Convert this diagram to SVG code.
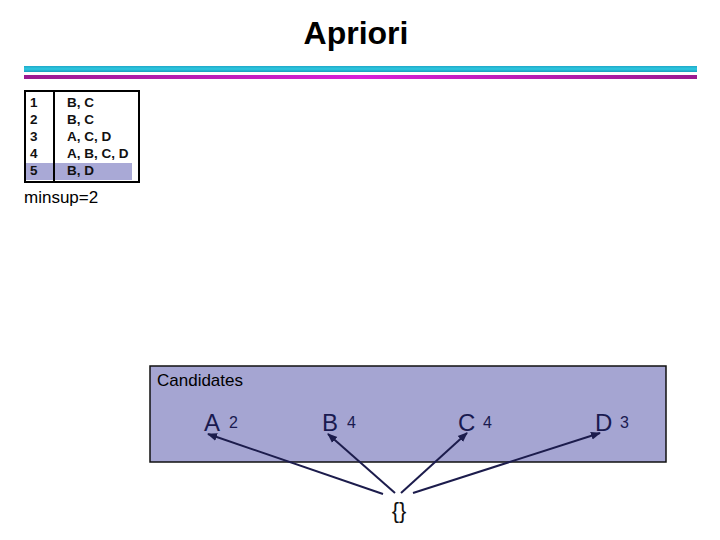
<svg xmlns="http://www.w3.org/2000/svg" width="720" height="540" viewBox="0 0 720 540">
<defs>
<linearGradient id="cy" x1="0" y1="0" x2="0" y2="1"><stop offset="0" stop-color="#1fa9c9"/><stop offset="0.5" stop-color="#2ec8e0"/><stop offset="1" stop-color="#1a9dbd"/></linearGradient>
<linearGradient id="mg" x1="0" y1="0" x2="1" y2="0"><stop offset="0" stop-color="#9a1a90"/><stop offset="0.5" stop-color="#d820d8"/><stop offset="1" stop-color="#9a1a90"/></linearGradient>
<marker id="ah" viewBox="0 0 10 10" refX="9" refY="5" markerWidth="5" markerHeight="5" orient="auto" markerUnits="strokeWidth"><path d="M0,1 L10,5 L0,9 z" fill="#1c1c4c"/></marker>
<style>
text{font-family:"Liberation Sans",Arial,sans-serif;}
.tb{font-size:13.5px;font-weight:bold;fill:#111;}
.big{font-size:24px;fill:#1a1a50;}
.num{font-size:16px;fill:#1a1a50;}
.cn{stroke:#1c1c4c;stroke-width:2;fill:none;marker-end:url(#ah);}
</style>
</defs>
<rect width="720" height="540" fill="#fff"/>
<text x="356" y="44" text-anchor="middle" font-size="32" font-weight="bold" fill="#000">Apriori</text>
<rect x="24" y="66" width="673" height="6" fill="url(#cy)"/>
<rect x="24" y="75" width="673" height="4" fill="url(#mg)"/>
<g id="table">
<rect x="26" y="163" width="106" height="17" fill="#a9a9d6"/>
<rect x="25" y="91" width="114" height="91" fill="none" stroke="#000" stroke-width="2"/>
<line x1="54" y1="91" x2="54" y2="182" stroke="#000" stroke-width="2"/>
<text class="tb" x="30" y="107">1</text><text class="tb" x="67" y="107">B, C</text>
<text class="tb" x="30" y="124">2</text><text class="tb" x="67" y="124">B, C</text>
<text class="tb" x="30" y="141">3</text><text class="tb" x="67" y="141">A, C, D</text>
<text class="tb" x="30" y="158">4</text><text class="tb" x="67" y="158">A, B, C, D</text>
<text class="tb" x="30" y="175">5</text><text class="tb" x="67" y="175">B, D</text>
</g>
<text x="24" y="203" font-size="17" fill="#000">minsup=2</text>
<g id="candidates">
<rect x="150" y="366" width="516" height="96" fill="#a5a5d2" stroke="#111" stroke-width="1.5"/>
<text x="157" y="386" font-size="17" fill="#000">Candidates</text>
</g>
<g id="nA"><text class="big" x="204" y="431">A</text><text class="num" x="229" y="428">2</text></g>
<g id="nB"><text class="big" x="322" y="431">B</text><text class="num" x="347" y="428">4</text></g>
<g id="nC"><text class="big" x="458" y="431">C</text><text class="num" x="483" y="428">4</text></g>
<g id="nD"><text class="big" x="595" y="431">D</text><text class="num" x="620" y="428">3</text></g>
<g id="nEmpty"><text x="399" y="518" text-anchor="middle" font-size="22" fill="#111">{}</text></g>
<g id="connectors">
<line class="cn" x1="383" y1="494" x2="208" y2="434"/>
<line class="cn" x1="395" y1="493" x2="328" y2="434"/>
<line class="cn" x1="401" y1="493" x2="467" y2="433"/>
<line class="cn" x1="413" y1="493" x2="600" y2="433"/>
</g>
</svg>
